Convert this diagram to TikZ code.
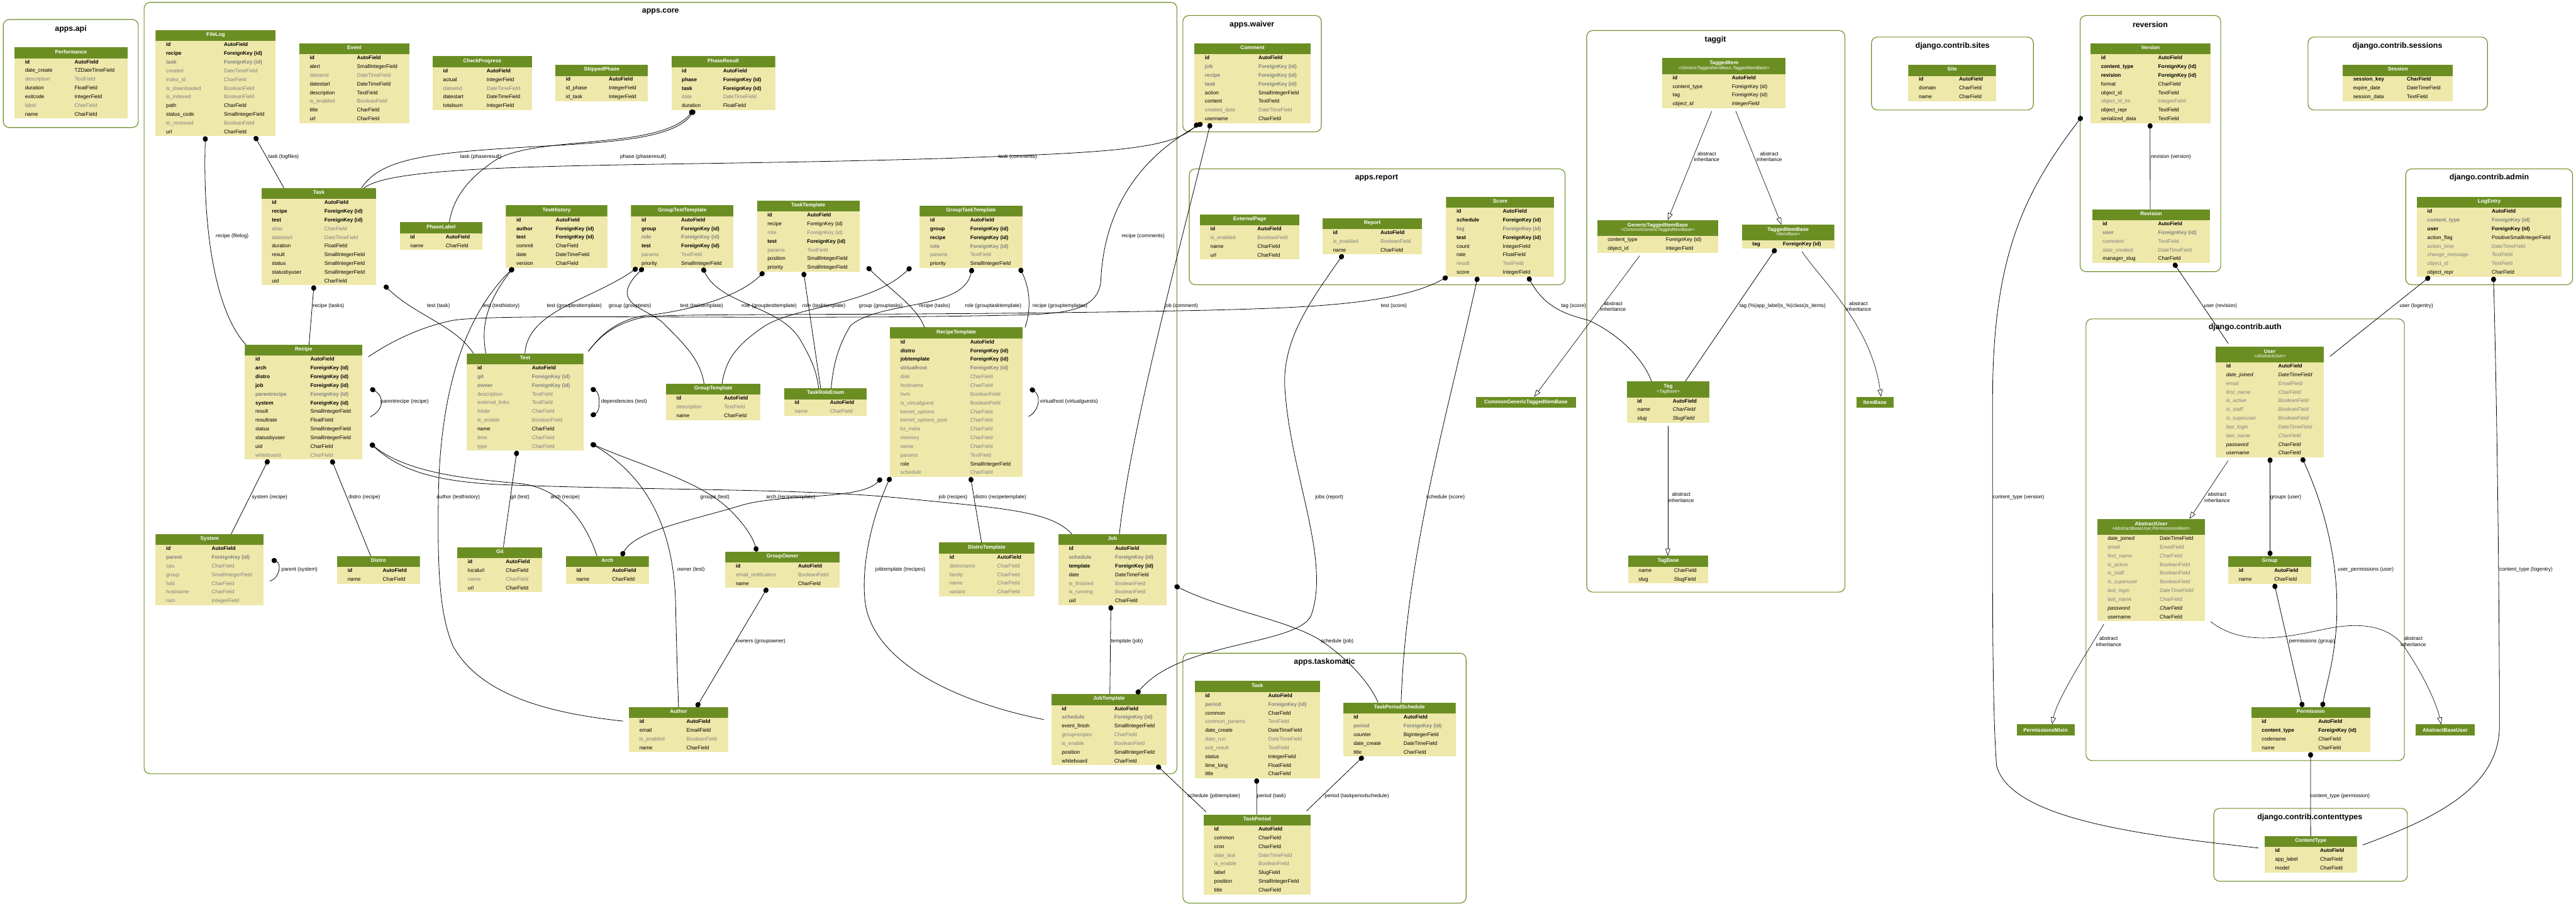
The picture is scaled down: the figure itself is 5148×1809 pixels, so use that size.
\documentclass[tikz,border=0pt]{standalone}
\usepackage{fontspec}
\setmainfont{Liberation Sans}
\usepackage{array}
\usepackage{tikz}
\usetikzlibrary{arrows.meta, positioning, fit, calc}

\definecolor{hdgreen}{HTML}{6B8E23}
\definecolor{bodyy}{HTML}{EEE8AA}
\definecolor{fgray}{HTML}{808080}

\newcommand\fieldfont{\fontsize{5.2}{8.7}\selectfont}
\newcommand\lblfont{\fontsize{5.2}{5.9}\selectfont}
\newcommand\clusterfont{\fontsize{7.8}{9}\selectfont\bfseries}
\newcommand\mstrut{\rule[-2.6pt]{0pt}{8.7pt}}
\newcommand\mtab[3]{\renewcommand\arraystretch{0}\begin{tabular}{@{\hspace{10.5pt}}p{#1}@{}p{#2}@{}}#3\end{tabular}}
\newcommand\mhead[1]{\multicolumn{2}{@{}c@{}}{\rule[-4pt]{0pt}{10.2pt}\textcolor{white}{\bfseries #1}}\\}
\newcommand\mheadd[2]{\multicolumn{2}{@{}c@{}}{\rule[-1.3pt]{0pt}{8pt}\textcolor{white}{\bfseries #1}}\\
  \multicolumn{2}{@{}c@{}}{\rule[-3.9pt]{0pt}{7.2pt}\textcolor{white}{\fontsize{4.55}{5}\selectfont\itshape <#2>}}\\}
\newcommand\rowk[2]{\mstrut\textbf{#1}&\textbf{#2}\\}
\newcommand\rowb[2]{\mstrut\textcolor{fgray}{\bfseries #1}&\textcolor{fgray}{\bfseries #2}\\}
\newcommand\rown[2]{\mstrut #1&#2\\}
\newcommand\rowg[2]{\mstrut\textcolor{fgray}{#1}&\textcolor{fgray}{#2}\\}
\newcommand\rowi[2]{\mstrut\textit{#1}&\textit{#2}\\}
\newcommand\rowj[2]{\mstrut\textcolor{fgray}{\itshape #1}&\textcolor{fgray}{\itshape #2}\\}

\begin{document}
\begin{tikzpicture}[
  x=0.5pt, y=-0.5pt,
  model/.style={
    fill=bodyy, inner sep=0pt, outer sep=0pt, anchor=north west, font=\fieldfont,
    path picture={\fill[hdgreen] (path picture bounding box.north west)
      rectangle ([yshift=-#1]path picture bounding box.north east);}
  },
  model/.default=11pt,
  basehd/.style={
    fill=hdgreen, text=white, font=\fieldfont\bfseries,
    inner sep=0pt, outer sep=0pt, anchor=north west, minimum height=11pt
  },
  cluster/.style={draw=hdgreen, line width=0.7pt, rounded corners=6pt, inner sep=0pt},
  ctitle/.style={font=\clusterfont, inner sep=0pt},
  fkline/.style={line width=0.5pt, {Circle[length=5.5pt,width=5pt]}-},
  mmline/.style={line width=0.5pt, {Circle[length=5.5pt,width=5pt]}-{Circle[length=5.5pt,width=5pt]}},
  inhline/.style={line width=0.4pt, -{Triangle[open,length=7pt,width=5pt]}},
  elabel/.style={font=\lblfont, inner sep=0pt, anchor=west},
  ilabel/.style={font=\lblfont, inner sep=0pt, anchor=west, align=center},
]
\fill[white] (0,0) rectangle (5148,1809);
\useasboundingbox (0,0) rectangle (5148,1809);

%% Clusters
\node[cluster, fit={(6.6,38.9) (276.4,254.8)}] (api) {};
\node[ctitle] (api-t) at (141.5,57.6) {apps.api};
\node[cluster, fit={(288,4.7) (2352,1545.7)}] (core) {};
\node[ctitle] (core-t) at (1320,23.3) {apps.core};
\node[cluster, fit={(2364,31) (2640.6,263.4)}] (waiver) {};
\node[ctitle] (waiver-t) at (2502,49.4) {apps.waiver};
\node[cluster, fit={(2376.7,337.3) (3127.7,568.8)}] (report-c) {};
\node[ctitle] (report-t) at (2751,354.8) {apps.report};
\node[cluster, fit={(3171,61) (3687,1182.8)}] (taggit) {};
\node[ctitle] (taggit-t) at (3428,79) {taggit};
\node[cluster, fit={(3740,74) (4063.6,219.8)}] (sites) {};
\node[ctitle] (sites-t) at (3902,91.8) {django.contrib.sites};
\node[cluster, fit={(4157,31) (4438,542.7)}] (reversion) {};
\node[ctitle] (reversion-t) at (4297,49.4) {reversion};
\node[cluster, fit={(4612.4,74) (4971,219.8)}] (sessions) {};
\node[ctitle] (sessions-t) at (4791,91.8) {django.contrib.sessions};
\node[cluster, fit={(4807.6,337.3) (5141,568.8)}] (admin) {};
\node[ctitle] (admin-t) at (4974.5,354.8) {django.contrib.admin};
\node[cluster, fit={(4168.7,637) (4805,1519.3)}] (auth) {};
\node[ctitle] (auth-t) at (4486.5,654.5) {django.contrib.auth};
\node[cluster, fit={(4424,1614.8) (4811,1760.4)}] (ctypes) {};
\node[ctitle] (ctypes-t) at (4616,1633) {django.contrib.contenttypes};
\node[cluster, fit={(2364,1304.9) (2930,1804)}] (taskomatic) {};
\node[ctitle] (taskomatic-t) at (2647,1322.7) {apps.taskomatic};

%% apps.api
\node[model] (performance) at (29,94.5) {\mtab{49.5pt}{53pt}{\mhead{Performance}
\rowk{id}{AutoField}
\rown{date\_create}{TZDateTimeField}
\rowg{description}{TextField}
\rown{duration}{FloatField}
\rown{exitcode}{IntegerField}
\rowg{label}{CharField}
\rown{name}{CharField}}};

%% apps.core, top row
\node[model] (filelog) at (311,60.3) {\mtab{57.8pt}{51.7pt}{\mhead{FileLog}
\rowk{id}{AutoField}
\rowk{recipe}{ForeignKey (id)}
\rowb{task}{ForeignKey (id)}
\rowg{created}{DateTimeField}
\rowg{index\_id}{CharField}
\rowg{is\_downloaded}{BooleanField}
\rowg{is\_indexed}{BooleanField}
\rown{path}{CharField}
\rown{status\_code}{SmallIntegerField}
\rowg{to\_removed}{BooleanField}
\rown{url}{CharField}}};
\node[model] (event) at (598,86.4) {\mtab{47.2pt}{52.4pt}{\mhead{Event}
\rowk{id}{AutoField}
\rown{alert}{SmallIntegerField}
\rowg{dateend}{DateTimeField}
\rown{datestart}{DateTimeField}
\rown{description}{TextField}
\rowg{is\_enabled}{BooleanField}
\rown{title}{CharField}
\rown{url}{CharField}}};
\node[model] (checkprogress) at (864.7,112.4) {\mtab{43.4pt}{45.3pt}{\mhead{CheckProgress}
\rowk{id}{AutoField}
\rown{actual}{IntegerField}
\rowg{dateend}{DateTimeField}
\rown{datestart}{DateTimeField}
\rown{totalsum}{IntegerField}}};
\node[model] (skippedphase) at (1110,129.5) {\mtab{42.9pt}{39.1pt}{\mhead{SkippedPhase}
\rowk{id}{AutoField}
\rown{id\_phase}{IntegerField}
\rown{id\_task}{IntegerField}}};
\node[model] (phaseresult) at (1341.7,112.4) {\mtab{41.2pt}{52pt}{\mhead{PhaseResult}
\rowk{id}{AutoField}
\rowk{phase}{ForeignKey (id)}
\rowk{task}{ForeignKey (id)}
\rowg{date}{DateTimeField}
\rown{duration}{FloatField}}};

%% apps.core, second row
\node[model] (task) at (522.4,375.4) {\mtab{52.5pt}{51.8pt}{\mhead{Task}
\rowk{id}{AutoField}
\rowk{recipe}{ForeignKey (id)}
\rowk{test}{ForeignKey (id)}
\rowg{alias}{CharField}
\rowg{datestart}{DateTimeField}
\rown{duration}{FloatField}
\rown{result}{SmallIntegerField}
\rown{status}{SmallIntegerField}
\rown{statusbyuser}{SmallIntegerField}
\rown{uid}{CharField}}};
\node[model] (phaselabel) at (799,444) {\mtab{35.5pt}{36.5pt}{\mhead{PhaseLabel}
\rowk{id}{AutoField}
\rown{name}{CharField}}};
\node[model] (testhistory) at (1011,410) {\mtab{39.4pt}{51.4pt}{\mhead{TestHistory}
\rowk{id}{AutoField}
\rowk{author}{ForeignKey (id)}
\rowk{test}{ForeignKey (id)}
\rown{commit}{CharField}
\rown{date}{DateTimeField}
\rown{version}{CharField}}};
\node[model] (grouptesttemplate) at (1261,410) {\mtab{39.7pt}{52.3pt}{\mhead{GroupTestTemplate}
\rowk{id}{AutoField}
\rowk{group}{ForeignKey (id)}
\rowb{role}{ForeignKey (id)}
\rowk{test}{ForeignKey (id)}
\rowg{params}{TextField}
\rown{priority}{SmallIntegerField}}};
\node[model] (tasktemplate) at (1512.8,400.7) {\mtab{39.6pt}{52.4pt}{\mhead{TaskTemplate}
\rowk{id}{AutoField}
\rown{recipe}{ForeignKey (id)}
\rowg{role}{ForeignKey (id)}
\rowk{test}{ForeignKey (id)}
\rowg{params}{TextField}
\rown{position}{SmallIntegerField}
\rown{priority}{SmallIntegerField}}};
\node[model] (grouptasktemplate) at (1837.8,410.4) {\mtab{40.1pt}{52.3pt}{\mhead{GroupTaskTemplate}
\rowk{id}{AutoField}
\rowk{group}{ForeignKey (id)}
\rowk{recipe}{ForeignKey (id)}
\rowb{role}{ForeignKey (id)}
\rowg{params}{TextField}
\rown{priority}{SmallIntegerField}}};

%% apps.core, third row
\node[model] (recipe) at (489.5,688.7) {\mtab{54.9pt}{51.9pt}{\mhead{Recipe}
\rowk{id}{AutoField}
\rowk{arch}{ForeignKey (id)}
\rowk{distro}{ForeignKey (id)}
\rowk{job}{ForeignKey (id)}
\rowb{parentrecipe}{ForeignKey (id)}
\rowk{system}{ForeignKey (id)}
\rown{result}{SmallIntegerField}
\rown{resultrate}{FloatField}
\rown{status}{SmallIntegerField}
\rown{statusbyuser}{SmallIntegerField}
\rown{uid}{CharField}
\rowg{whiteboard}{CharField}}};
\node[model] (test) at (933,705.8) {\mtab{54.5pt}{51.4pt}{\mhead{Test}
\rowk{id}{AutoField}
\rowb{git}{ForeignKey (id)}
\rowb{owner}{ForeignKey (id)}
\rowg{description}{TextField}
\rowg{external\_links}{TextField}
\rowg{folder}{CharField}
\rowg{is\_enable}{BooleanField}
\rown{name}{CharField}
\rowg{time}{CharField}
\rowg{type}{CharField}}};
\node[model] (grouptemplate) at (1331,766.5) {\mtab{47.5pt}{36.5pt}{\mhead{GroupTemplate}
\rowk{id}{AutoField}
\rowg{description}{TextField}
\rown{name}{CharField}}};
\node[model] (taskroleenum) at (1567,775.5) {\mtab{35.5pt}{36.75pt}{\mhead{TaskRoleEnum}
\rowk{id}{AutoField}
\rowg{name}{CharField}}};
\node[model] (recipetemplate) at (1778.6,654) {\mtab{69.7pt}{52.3pt}{\mhead{RecipeTemplate}
\rowk{id}{AutoField}
\rowk{distro}{ForeignKey (id)}
\rowk{jobtemplate}{ForeignKey (id)}
\rowb{virtualhost}{ForeignKey (id)}
\rowg{disk}{CharField}
\rowg{hostname}{CharField}
\rowg{hvm}{BooleanField}
\rowg{is\_virtualguest}{BooleanField}
\rowg{kernel\_options}{CharField}
\rowg{kernel\_options\_post}{CharField}
\rowg{ks\_meta}{CharField}
\rowg{memory}{CharField}
\rowg{name}{CharField}
\rowg{params}{TextField}
\rown{role}{SmallIntegerField}
\rowg{schedule}{CharField}}};

%% apps.core, fourth row
\node[model] (system) at (311,1066.8) {\mtab{45.5pt}{52pt}{\mhead{System}
\rowk{id}{AutoField}
\rowb{parent}{ForeignKey (id)}
\rowg{cpu}{CharField}
\rowg{group}{SmallIntegerField}
\rowg{hdd}{CharField}
\rowg{hostname}{CharField}
\rowg{ram}{IntegerField}}};
\node[model] (distro) at (673.8,1110.8) {\mtab{35.1pt}{37.1pt}{\mhead{Distro}
\rowk{id}{AutoField}
\rown{name}{CharField}}};
\node[model] (git) at (914,1093) {\mtab{38pt}{36.5pt}{\mhead{Git}
\rowk{id}{AutoField}
\rown{localurl}{CharField}
\rowg{name}{CharField}
\rown{url}{CharField}}};
\node[model] (arch) at (1131,1110.8) {\mtab{35.7pt}{36.6pt}{\mhead{Arch}
\rowk{id}{AutoField}
\rown{name}{CharField}}};
\node[model] (groupowner) at (1449.5,1101.8) {\mtab{62.25pt}{41.5pt}{\mhead{GroupOwner}
\rowk{id}{AutoField}
\rowg{email\_notification}{BooleanField}
\rown{name}{CharField}}};
\node[model] (distrotemplate) at (1876.5,1084) {\mtab{47.75pt}{37pt}{\mhead{DistroTemplate}
\rowk{id}{AutoField}
\rowg{distroname}{CharField}
\rowg{family}{CharField}
\rowg{name}{CharField}
\rowg{variant}{CharField}}};
\node[model] (job) at (2115,1066.8) {\mtab{46.3pt}{51.4pt}{\mhead{Job}
\rowk{id}{AutoField}
\rowb{schedule}{ForeignKey (id)}
\rowk{template}{ForeignKey (id)}
\rown{date}{DateTimeField}
\rowg{is\_finished}{BooleanField}
\rowg{is\_running}{BooleanField}
\rown{uid}{CharField}}};

%% apps.core, bottom row
\node[model] (author) at (1257,1412.5) {\mtab{47pt}{41.5pt}{\mhead{Author}
\rowk{id}{AutoField}
\rown{email}{EmailField}
\rowg{is\_enabled}{BooleanField}
\rown{name}{CharField}}};
\node[model] (jobtemplate) at (2101,1386.4) {\mtab{52.5pt}{52.2pt}{\mhead{JobTemplate}
\rowk{id}{AutoField}
\rowb{schedule}{ForeignKey (id)}
\rown{event\_finish}{SmallIntegerField}
\rowg{grouprecipes}{CharField}
\rowg{is\_enable}{BooleanField}
\rown{position}{SmallIntegerField}
\rown{whiteboard}{CharField}}};

%% apps.waiver, apps.report
\node[model] (comment) at (2387,86.4) {\mtab{53.5pt}{52pt}{\mhead{Comment}
\rowk{id}{AutoField}
\rowb{job}{ForeignKey (id)}
\rowb{recipe}{ForeignKey (id)}
\rowb{task}{ForeignKey (id)}
\rown{action}{SmallIntegerField}
\rown{content}{TextField}
\rowg{created\_date}{DateTimeField}
\rown{username}{CharField}}};
\node[model] (externalpage) at (2398,428) {\mtab{47pt}{42pt}{\mhead{ExternalPage}
\rowk{id}{AutoField}
\rowg{is\_enabled}{BooleanField}
\rown{name}{CharField}
\rown{url}{CharField}}};
\node[model] (report) at (2643,435.7) {\mtab{47.5pt}{41.5pt}{\mhead{Report}
\rowk{id}{AutoField}
\rowg{is\_enabled}{BooleanField}
\rown{name}{CharField}}};
\node[model] (score) at (2890,393) {\mtab{46.2pt}{51.3pt}{\mhead{Score}
\rowk{id}{AutoField}
\rowk{schedule}{ForeignKey (id)}
\rowb{tag}{ForeignKey (id)}
\rowk{test}{ForeignKey (id)}
\rown{count}{IntegerField}
\rown{rate}{FloatField}
\rowg{result}{TextField}
\rown{score}{IntegerField}}};

%% apps.taskomatic
\node[model] (ttask) at (2387.4,1360.4) {\mtab{63.1pt}{51.7pt}{\mhead{Task}
\rowk{id}{AutoField}
\rowb{period}{ForeignKey (id)}
\rown{common}{CharField}
\rowg{common\_params}{TextField}
\rown{date\_create}{DateTimeField}
\rowg{date\_run}{DateTimeField}
\rowg{exit\_result}{TextField}
\rown{status}{IntegerField}
\rown{time\_long}{FloatField}
\rown{title}{CharField}}};
\node[model] (taskperiodschedule) at (2684,1403.5) {\mtab{50pt}{52pt}{\mhead{TaskPeriodSchedule}
\rowk{id}{AutoField}
\rowb{period}{ForeignKey (id)}
\rown{counter}{BigIntegerField}
\rown{date\_create}{DateTimeField}
\rown{title}{CharField}}};
\node[model] (taskperiod) at (2405.5,1627) {\mtab{44.25pt}{52pt}{\mhead{TaskPeriod}
\rowk{id}{AutoField}
\rown{common}{CharField}
\rown{cron}{CharField}
\rowg{date\_last}{DateTimeField}
\rowg{is\_enable}{BooleanField}
\rown{label}{SlugField}
\rown{position}{SmallIntegerField}
\rown{title}{CharField}}};

%% taggit
\node[model=16pt] (taggeditem) at (3321.8,116) {\mtab{59.1pt}{53.8pt}{\mheadd{TaggedItem}{GenericTaggedItemBase,TaggedItemBase}
\rowk{id}{AutoField}
\rown{content\_type}{ForeignKey (id)}
\rown{tag}{ForeignKey (id)}
\rowi{object\_id}{IntegerField}}};
\node[model=16pt] (generictaggeditembase) at (3191.8,439.6) {\mtab{58.1pt}{52.4pt}{\mheadd{GenericTaggedItemBase}{CommonGenericTaggedItemBase}
\rown{content\_type}{ForeignKey (id)}
\rown{object\_id}{IntegerField}}};
\node[model=16pt] (taggeditembase) at (3481,448.6) {\mtab{30.5pt}{51.4pt}{\mheadd{TaggedItemBase}{ItemBase}
\rowk{tag}{ForeignKey (id)}}};
\node[basehd, minimum width=99.5pt] (cgtib) at (2950,792.6) {CommonGenericTaggedItemBase};
\node[basehd, minimum width=37pt] (itembase) at (3710,792.6) {ItemBase};
\node[model=16pt] (tag) at (3251,761.8) {\mtab{35.5pt}{36.75pt}{\mheadd{Tag}{TagBase}
\rowk{id}{AutoField}
\rowi{name}{CharField}
\rowi{slug}{SlugField}}};
\node[model] (tagbase) at (3253.6,1110.4) {\mtab{35.5pt}{34.2pt}{\mhead{TagBase}
\rown{name}{CharField}
\rown{slug}{SlugField}}};

%% django.contrib.sites, reversion, sessions, admin
\node[model] (site) at (3813.8,129.5) {\mtab{40.1pt}{36.8pt}{\mhead{Site}
\rowk{id}{AutoField}
\rown{domain}{CharField}
\rown{name}{CharField}}};
\node[model] (version) at (4177.8,86.4) {\mtab{57.1pt}{52.1pt}{\mhead{Version}
\rowk{id}{AutoField}
\rowk{content\_type}{ForeignKey (id)}
\rowk{revision}{ForeignKey (id)}
\rown{format}{CharField}
\rown{object\_id}{TextField}
\rowg{object\_id\_int}{IntegerField}
\rown{object\_repr}{TextField}
\rown{serialized\_data}{TextField}}};
\node[model] (revision) at (4181,418) {\mtab{55.5pt}{52pt}{\mhead{Revision}
\rowk{id}{AutoField}
\rowb{user}{ForeignKey (id)}
\rowg{comment}{TextField}
\rowg{date\_created}{DateTimeField}
\rown{manager\_slug}{CharField}}};
\node[model] (session) at (4681.7,129.5) {\mtab{53.7pt}{46pt}{\mhead{Session}
\rowk{session\_key}{CharField}
\rown{expire\_date}{DateTimeField}
\rown{session\_data}{TextField}}};
\node[model] (logentry) at (4830,393) {\mtab{64.3pt}{69.7pt}{\mhead{LogEntry}
\rowk{id}{AutoField}
\rowb{content\_type}{ForeignKey (id)}
\rowk{user}{ForeignKey (id)}
\rown{action\_flag}{PositiveSmallIntegerField}
\rowg{action\_time}{DateTimeField}
\rowg{change\_message}{TextField}
\rowg{object\_id}{TextField}
\rown{object\_repr}{CharField}}};

%% django.contrib.auth, contenttypes
\node[model=16pt] (user) at (4428,692) {\mtab{52pt}{45.5pt}{\mheadd{User}{AbstractUser}
\rowk{id}{AutoField}
\rowi{date\_joined}{DateTimeField}
\rowj{email}{EmailField}
\rowj{first\_name}{CharField}
\rowj{is\_active}{BooleanField}
\rowj{is\_staff}{BooleanField}
\rowj{is\_superuser}{BooleanField}
\rowj{last\_login}{DateTimeField}
\rowj{last\_name}{CharField}
\rowi{password}{CharField}
\rowi{username}{CharField}}};
\node[model=16pt] (abstractuser) at (4191,1036.5) {\mtab{52pt}{45.5pt}{\mheadd{AbstractUser}{AbstractBaseUser,PermissionsMixin}
\rown{date\_joined}{DateTimeField}
\rowg{email}{EmailField}
\rowg{first\_name}{CharField}
\rowg{is\_active}{BooleanField}
\rowg{is\_staff}{BooleanField}
\rowj{is\_superuser}{BooleanField}
\rowj{last\_login}{DateTimeField}
\rowg{last\_name}{CharField}
\rowi{password}{CharField}
\rown{username}{CharField}}};
\node[model] (group) at (4453,1110.8) {\mtab{35.5pt}{37pt}{\mhead{Group}
\rowk{id}{AutoField}
\rown{name}{CharField}}};
\node[model] (permission) at (4499,1412.5) {\mtab{56.5pt}{51.85pt}{\mhead{Permission}
\rowk{id}{AutoField}
\rowk{content\_type}{ForeignKey (id)}
\rown{codename}{CharField}
\rown{name}{CharField}}};
\node[basehd, minimum width=58pt] (permissionsmixin) at (4030,1447) {PermissionsMixin};
\node[basehd, minimum width=59.5pt] (abstractbaseuser) at (4827,1447) {AbstractBaseUser};
\node[model] (contenttype) at (4525.7,1670) {\mtab{45pt}{36.65pt}{\mhead{ContentType}
\rowk{id}{AutoField}
\rown{app\_label}{CharField}
\rown{model}{CharField}}};

%% Edges: apps.core top
\draw[fkline] ($(filelog.south west)+(99.5,0)$) .. controls (405,450) and (428,620) .. ($(recipe.north west)+(2,0)$);
\draw[fkline] ($(filelog.south west)+(198,0)$) -- ($(task.north west)+(45,0)$);
\draw[fkline] ($(phaseresult.south west)+(46,0)$) .. controls (1340,290) and (1150,285) .. (960,300) .. controls (800,312) and (750,335) .. ($(task.north west)+(200,0)$);
\draw[fkline] ($(phaseresult.south west)+(44,0)$) .. controls (1320,300) and (1070,270) .. (990,320) .. controls (930,360) and (905,400) .. ($(phaselabel.north west)+(99,0)$);
\draw[fkline] ($(comment.south west)+(8,0)$) .. controls (2340,300) and (2200,305) .. (1900,316) .. controls (1300,335) and (800,320) .. ($(task.north west)+(205,0)$);
\draw[fkline] ($(comment.south west)+(16,0)$) .. controls (2250,330) and (2205,450) .. (2200,560) .. controls (2195,625) and (2120,628) .. (2000,630) .. controls (1500,640) and (1000,625) .. (905,640) .. controls (830,655) and (770,690) .. ($(recipe.north east)+(12,24)$);
\draw[fkline] ($(comment.south west)+(32,0)$) .. controls (2370,450) and (2260,850) .. ($(job.north west)+(122,0)$);
\draw[fkline] ($(task.south west)+(105,0)$) -- ($(recipe.north west)+(128,0)$);
\draw[fkline] ($(task.south east)+(16,0)$) .. controls (830,630) and (910,650) .. ($(test.north west)+(13,0)$);
\draw[fkline] ($(testhistory.south west)+(15,0)$) .. controls (975,600) and (960,650) .. ($(test.north west)+(38,0)$);
\draw[fkline] ($(testhistory.south west)+(15,0)$) .. controls (920,640) and (878,800) .. (876,1000) .. controls (874,1150) and (880,1230) .. (905,1290) .. controls (960,1390) and (1100,1425) .. ($(author.north west)+(-12,28)$);
\draw[fkline] ($(grouptesttemplate.south west)+(13,0)$) .. controls (1180,600) and (1055,620) .. ($(test.north west)+(116,0)$);
\draw[fkline] ($(grouptesttemplate.south west)+(25,0)$) .. controls (1210,610) and (1300,615) .. (1330,650) .. controls (1370,690) and (1400,720) .. ($(grouptemplate.north west)+(76,0)$);
\draw[fkline] ($(grouptesttemplate.south west)+(143,0)$) .. controls (1440,610) and (1560,610) .. (1600,680) .. controls (1620,715) and (1632,740) .. ($(taskroleenum.north west)+(69,0)$);
\draw[fkline] ($(tasktemplate.south west)+(14,0)$) .. controls (1470,600) and (1350,625) .. (1290,630) .. controls (1230,640) and (1200,670) .. ($(test.north east)+(10,-4)$);
\draw[fkline] ($(tasktemplate.south west)+(93,0)$) -- ($(taskroleenum.north west)+(73,0)$);
\draw[fkline] ($(tasktemplate.south east)+(15,-10)$) .. controls (1780,580) and (1830,610) .. ($(recipetemplate.north west)+(69,0)$);
\draw[fkline] ($(grouptasktemplate.south west)+(-17,-2)$) .. controls (1740,610) and (1600,610) .. (1530,650) .. controls (1470,690) and (1450,720) .. ($(grouptemplate.north west)+(112,0)$);
\draw[fkline] ($(grouptasktemplate.south west)+(105,0)$) .. controls (1925,620) and (1760,600) .. (1700,650) .. controls (1675,690) and (1665,730) .. ($(taskroleenum.north west)+(94,0)$);
\draw[fkline] ($(grouptasktemplate.south west)+(200,0)$) .. controls (2060,580) and (2060,620) .. ($(recipetemplate.north east)+(5,0)$);

%% Edges: apps.core lower
\draw[fkline] ($(recipe.north east)+(16,87)$) .. controls (768,792) and (768,818) .. ($(recipe.north east)+(16,144)$);
\draw[fkline] ($(recipe.north east)+(16,197)$) .. controls (800,940) and (870,962) .. (1000,968) .. controls (1300,980) and (1600,975) .. (1800,995) .. controls (2000,1015) and (2100,1020) .. ($(job.north west)+(27,0)$);
\draw[fkline] ($(recipe.north east)+(16,197)$) .. controls (820,950) and (960,958) .. (1040,966) .. controls (1120,975) and (1170,1040) .. ($(arch.north west)+(62,0)$);
\draw[fkline] ($(recipe.south west)+(47,0)$) -- ($(system.north west)+(151,0)$);
\draw[fkline] ($(recipe.south west)+(173,0)$) -- ($(distro.north west)+(67,0)$);
\draw[fkline] ($(system.north east)+(16,51)$) .. controls (562,1125) and (560,1155) .. ($(system.north east)+(12,94)$);
\draw[fkline] ($(test.south west)+(100,0)$) -- ($(git.north west)+(92,0)$);
\draw[mmline] ($(test.north east)+(15,70)$) .. controls (1200,785) and (1200,822) .. ($(test.north east)+(15,125)$);
\draw[fkline] ($(test.north east)+(15,180)$) .. controls (1290,950) and (1345,1050) .. (1350,1200) .. controls (1352,1300) and (1355,1380) .. ($(author.north west)+(99,0)$);
\draw[mmline] ($(test.north east)+(15,180)$) .. controls (1280,930) and (1400,960) .. (1460,1020) .. controls (1490,1050) and (1505,1075) .. ($(groupowner.north west)+(63,0)$);
\draw[mmline] ($(recipetemplate.south west)+(-17,2)$) .. controls (1720,1000) and (1560,985) .. (1480,1010) .. controls (1380,1040) and (1270,1060) .. ($(arch.north west)+(111,0)$);
\draw[fkline] ($(recipetemplate.south west)+(161,0)$) -- ($(distrotemplate.north west)+(85,0)$);
\draw[fkline] ($(recipetemplate.south west)+(1,0)$) .. controls (1735,1050) and (1720,1150) .. (1730,1210) .. controls (1750,1320) and (1900,1400) .. ($(jobtemplate.north west)+(-15,51)$);
\draw[fkline] ($(recipetemplate.north east)+(15,122)$) .. controls (2080,790) and (2078,820) .. ($(recipetemplate.north east)+(12,178)$);
\draw[mmline] ($(groupowner.south west)+(84,0)$) -- ($(author.north west)+(135,0)$);
\draw[fkline] ($(job.south west)+(105,0)$) -- ($(jobtemplate.north west)+(117,0)$);
\draw[fkline] ($(job.north east)+(16,103)$) .. controls (2450,1220) and (2580,1240) .. (2640,1280) .. controls (2700,1320) and (2740,1370) .. ($(taskperiodschedule.north west)+(70,0)$);
\draw[mmline] ($(report.south west)+(41,0)$) .. controls (2620,600) and (2560,680) .. (2568,780) .. controls (2580,950) and (2660,1120) .. (2620,1230) .. controls (2590,1290) and (2360,1280) .. ($(jobtemplate.north west)+(170,0)$);
\draw[fkline] ($(score.south west)+(63,0)$) .. controls (2900,800) and (2810,1100) .. ($(taskperiodschedule.north west)+(116,0)$);
\draw[fkline] ($(score.south west)+(3,0)$) .. controls (2790,610) and (2600,615) .. (2400,620) .. controls (1800,632) and (1350,625) .. (1290,633) .. controls (1230,645) and (1200,670) .. ($(test.north east)+(10,-4)$);
\draw[fkline] ($(score.south west)+(163.6,0)$) .. controls (3090,620) and (3140,630) .. (3175,640) .. controls (3240,670) and (3285,720) .. ($(tag.north west)+(49.5,0)$);

%% Edges: taggit
\draw[inhline] ($(taggeditem.south west)+(99,6)$) -- ($(generictaggeditembase.north west)+(141,0)$);
\draw[inhline] ($(taggeditem.south west)+(147,6)$) -- ($(taggeditembase.north west)+(79,0)$);
\draw[inhline] ($(generictaggeditembase.south west)+(85,6)$) -- ($(cgtib.north west)+(116,0)$);
\draw[fkline] ($(taggeditembase.south west)+(68,0)$) -- ($(tag.north west)+(117,0)$);
\draw[inhline] ($(taggeditembase.south west)+(120,6)$) .. controls (3640,560) and (3740,650) .. ($(itembase.north west)+(49,0)$);
\draw[inhline] ($(tag.south west)+(82,7)$) -- ($(tagbase.north west)+(79.4,0)$);

%% Edges: reversion, admin, auth, contenttypes
\draw[fkline] ($(version.south west)+(119,0)$) -- ($(revision.north west)+(116,0)$);
\draw[fkline] ($(version.north west)+(-17,146)$) .. controls (4040,390) and (3982,520) .. (3982,800) .. controls (3982,1100) and (3980,1400) .. (3990,1530) .. controls (4020,1640) and (4300,1670) .. ($(contenttype.north west)+(-12,24)$);
\draw[fkline] ($(revision.south west)+(163,0)$) -- ($(user.north west)+(25,-6)$);
\draw[fkline] ($(logentry.south west)+(26,0)$) -- ($(user.north east)+(12,20)$);
\draw[fkline] ($(logentry.south west)+(153,0)$) .. controls (4990,800) and (4995,1200) .. (4995,1450) .. controls (4995,1580) and (4850,1640) .. ($(contenttype.north east)+(12,18)$);
\draw[inhline] ($(user.south west)+(25,6)$) -- ($(abstractuser.north west)+(184.5,0)$);
\draw[mmline] ($(user.south west)+(108.5,0)$) -- ($(group.north west)+(83.5,0)$);
\draw[mmline] ($(user.south west)+(172,0)$) .. controls (4640,1000) and (4668,1100) .. (4670,1200) .. controls (4672,1300) and (4650,1360) .. ($(permission.north west)+(142,0)$);
\draw[mmline] ($(group.south west)+(92,0)$) -- ($(permission.north west)+(102.6,0)$);
\draw[inhline] ($(abstractuser.south west)+(13.5,6)$) .. controls (4160,1320) and (4110,1400) .. ($(permissionsmixin.north west)+(71,0)$);
\draw[inhline] ($(abstractuser.south east)+(11,1)$) .. controls (4480,1290) and (4560,1275) .. (4640,1258) .. controls (4720,1240) and (4780,1250) .. (4810,1300) .. controls (4850,1360) and (4870,1410) .. ($(abstractbaseuser.north west)+(51.6,0)$);
\draw[fkline] ($(permission.south west)+(118.5,0)$) -- ($(contenttype.north west)+(92,0)$);

%% Edges: apps.taskomatic
\draw[fkline] ($(jobtemplate.south east)+(-20,0)$) -- ($(taskperiod.north west)+(5,-5)$);
\draw[fkline] ($(ttask.south west)+(124,0)$) -- ($(taskperiod.north west)+(106,0)$);
\draw[fkline] ($(taskperiodschedule.south west)+(40.5,0)$) -- ($(taskperiod.north east)+(-8,-7)$);

%% Edge labels
\node[elabel] (l-recipe-filelog) at (431,471.5) {recipe (filelog)};
\node[elabel] (l-task-logfiles) at (535.6,313) {task (logfiles)};
\node[elabel] (l-task-phaseresult) at (919,313) {task (phaseresult)};
\node[elabel] (l-phase-phaseresult) at (1239,313) {phase (phaseresult)};
\node[elabel] (l-task-comments) at (1995,313) {task (comments)};
\node[elabel] (l-recipe-comments) at (2241,471.5) {recipe (comments)};
\node[elabel] (l-job-comment) at (2327,611.7) {job (comment)};
\node[elabel] (l-recipe-tasks) at (625,611.7) {recipe (tasks)};
\node[elabel] (l-test-task) at (853,611.7) {test (task)};
\node[elabel] (l-test-testhistory) at (964,611.7) {test (testhistory)};
\node[elabel] (l-test-gtt) at (1092.5,611.7) {test (grouptesttemplate)};
\node[elabel] (l-group-grouptests) at (1216,611.7) {group (grouptests)};
\node[elabel] (l-test-tasktemplate) at (1359,611.7) {test (tasktemplate)};
\node[elabel] (l-role-gtt) at (1481.6,611.7) {role (grouptesttemplate)};
\node[elabel] (l-role-tasktemplate) at (1603,611.7) {role (tasktemplate)};
\node[elabel] (l-group-grouptasks) at (1716,611.7) {group (grouptasks)};
\node[elabel] (l-recipe-tasks2) at (1836,611.7) {recipe (tasks)};
\node[elabel] (l-role-gtasktemplate) at (1928,611.7) {role (grouptasktemplate)};
\node[elabel] (l-recipe-grouptemplates) at (2063,611.7) {recipe (grouptemplates)};
\node[elabel] (l-parentrecipe) at (760,802.7) {parentrecipe (recipe)};
\node[elabel] (l-dependencies) at (1201,802.7) {dependencies (test)};
\node[elabel] (l-virtualhost) at (2078,802.7) {virtualhost (virtualguests)};
\node[elabel] (l-system-recipe) at (502.7,993.7) {system (recipe)};
\node[elabel] (l-distro-recipe) at (696,993.7) {distro (recipe)};
\node[elabel] (l-author-testhistory) at (872,993.7) {author (testhistory)};
\node[elabel] (l-git-test) at (1020,993.7) {git (test)};
\node[elabel] (l-arch-recipe) at (1100,993.7) {arch (recipe)};
\node[elabel] (l-groups-test) at (1399,993.7) {groups (test)};
\node[elabel] (l-arch-recipetemplate) at (1531,993.7) {arch (recipetemplate)};
\node[elabel] (l-job-recipes) at (1875.6,993.7) {job (recipes)};
\node[elabel] (l-distro-recipetemplate) at (1947,993.7) {distro (recipetemplate)};
\node[elabel] (l-parent-system) at (562,1137.6) {parent (system)};
\node[elabel] (l-owner-test) at (1353,1137.6) {owner (test)};
\node[elabel] (l-jobtemplate-trecipes) at (1749,1137.6) {jobtemplate (trecipes)};
\node[elabel] (l-owners-groupowner) at (1471,1281.6) {owners (groupowner)};
\node[elabel] (l-template-job) at (2220,1281.6) {template (job)};
\node[elabel] (l-schedule-job) at (2639,1281.6) {schedule (job)};
\node[elabel] (l-schedule-jobtemplate) at (2372.6,1590) {schedule (jobtemplate)};
\node[elabel] (l-period-task) at (2511.6,1590) {period (task)};
\node[elabel] (l-period-tps) at (2647,1590) {period (taskperiodschedule)};
\node[elabel] (l-test-score) at (2759,611.7) {test (score)};
\node[elabel] (l-tag-score) at (3119.5,611.7) {tag (score)};
\node[elabel] (l-jobs-report) at (2628,993.7) {jobs (report)};
\node[elabel] (l-schedule-score) at (2850,993.7) {schedule (score)};
\node[elabel] (l-tag-items) at (3475.7,611.7) {tag (\%(app\_label)s\_\%(class)s\_items)};
\node[ilabel] (l-inh1) at (3385,313) {abstract\\inheritance};
\node[ilabel] (l-inh2) at (3510,313) {abstract\\inheritance};
\node[ilabel] (l-inh3) at (3198,612) {abstract\\inheritance};
\node[ilabel] (l-inh4) at (3688,612) {abstract\\inheritance};
\node[ilabel] (l-inh5) at (3334,993.7) {abstract\\inheritance};
\node[elabel] (l-revision-version) at (4298.8,313) {revision (version)};
\node[elabel] (l-user-revision) at (4404,611.7) {user (revision)};
\node[elabel] (l-user-logentry) at (4795,611.7) {user (logentry)};
\node[elabel] (l-ct-version) at (3982,993.7) {content\_type (version)};
\node[ilabel] (l-inh6) at (4405,993.7) {abstract\\inheritance};
\node[elabel] (l-groups-user) at (4536.5,993.7) {groups (user)};
\node[elabel] (l-userperm) at (4671.7,1137.6) {user\_permissions (user)};
\node[elabel] (l-ct-logentry) at (4994.5,1137.6) {content\_type (logentry)};
\node[ilabel] (l-inh7) at (4188,1281.6) {abstract\\inheritance};
\node[elabel] (l-perm-group) at (4574,1281.6) {permissions (group)};
\node[ilabel] (l-inh8) at (4797,1281.6) {abstract\\inheritance};
\node[elabel] (l-ct-permission) at (4615.8,1590) {content\_type (permission)};
\end{tikzpicture}
\end{document}
